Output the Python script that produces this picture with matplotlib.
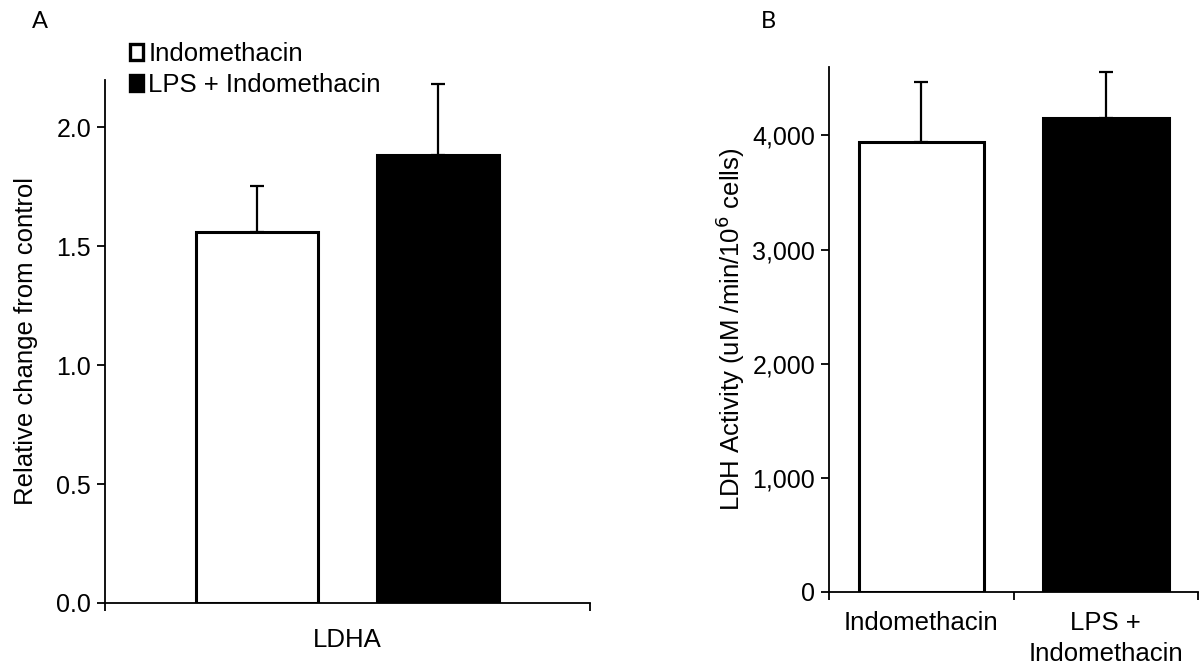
import matplotlib
matplotlib.use('Agg')
import matplotlib.pyplot as plt
from matplotlib.patches import Patch

plt.rcParams['font.family'] = ['Liberation Sans', 'DejaVu Sans']

# panel A: relative change of LDHA
groups = ['Indomethacin', 'LPS + Indomethacin']
ldha_mean = [1.56, 1.885]
ldha_err = [0.195, 0.30]

# panel B: LDH activity
b_labels = ['Indomethacin', 'LPS +\nIndomethacin']
ldh_mean = [3945, 4150]
ldh_err = [525, 410]

colors = ['white', 'black']
fs = 18.5

fig = plt.figure(figsize=(11.99, 6.69), dpi=100)

# ---- panel A ----
axA = fig.add_axes([0.0876, 0.0987, 0.4045, 0.7818])
xa = [0.3135, 0.6865]
for i in range(2):
    axA.bar(xa[i], ldha_mean[i], width=0.251, color=colors[i], edgecolor='black',
            linewidth=2.2, zorder=2)
    axA.errorbar(xa[i], ldha_mean[i], yerr=[[0], [ldha_err[i]]], fmt='none',
                 ecolor='black', elinewidth=1.6, capsize=5, capthick=1.6, zorder=1)
axA.set_xlim(0, 1)
axA.set_ylim(0, 2.2)
axA.set_yticks([0, 0.5, 1.0, 1.5, 2.0])
axA.set_yticklabels(['0.0', '0.5', '1.0', '1.5', '2.0'])
axA.set_xticks([0, 1])
axA.set_xticklabels(['', ''])
axA.text(0.5, -0.048, 'LDHA', transform=axA.transAxes, ha='center', va='top', fontsize=fs)
axA.set_ylabel('Relative change from control', fontsize=fs, labelpad=13)

handles = [Patch(facecolor=colors[i], edgecolor='black', linewidth=2.4) for i in range(2)]
axA.legend(handles, groups, loc='upper left', bbox_to_anchor=(0.052, 1.072), frameon=False,
           fontsize=fs, handlelength=0.5, handleheight=0.55, handletextpad=0.2,
           labelspacing=0.26, borderaxespad=0, borderpad=0)

# ---- panel B ----
axB = fig.add_axes([0.6914, 0.1155, 0.3078, 0.7843])
xb = [0, 1]
for i in range(2):
    axB.bar(xb[i], ldh_mean[i], width=0.68, color=colors[i], edgecolor='black',
            linewidth=2.2, zorder=2)
    axB.errorbar(xb[i], ldh_mean[i], yerr=[[0], [ldh_err[i]]], fmt='none',
                 ecolor='black', elinewidth=1.6, capsize=5, capthick=1.6, zorder=1)
axB.set_xlim(-0.5, 1.5)
axB.set_ylim(0, 4600)
axB.set_yticks([0, 1000, 2000, 3000, 4000])
axB.set_yticklabels(['0', '1,000', '2,000', '3,000', '4,000'])
axB.set_xticks([-0.5, 0.5, 1.5])
axB.set_xticklabels(['', '', ''])
for i in range(2):
    axB.text(xb[i], -165, b_labels[i], ha='center', va='top', fontsize=fs,
             linespacing=1.4)
axB.set_ylabel('LDH Activity (uM /min/10$^{6}$ cells)', fontsize=fs, labelpad=4)

for ax in (axA, axB):
    for s in ('top', 'right'):
        ax.spines[s].set_visible(False)
    for s in ('left', 'bottom'):
        ax.spines[s].set_linewidth(1.3)
    ax.tick_params(axis='both', direction='out', length=6, width=1.3, labelsize=18, pad=4)
    ax.spines['bottom'].set_zorder(3)

fig.text(40 / 1199, 1 - 22 / 669, 'A', fontsize=17, family='Lato', ha='center', va='center')
fig.text(768 / 1199, 1 - 22 / 669, 'B', fontsize=17, family='Lato', ha='center', va='center')

fig.savefig('out.png', dpi=100)
